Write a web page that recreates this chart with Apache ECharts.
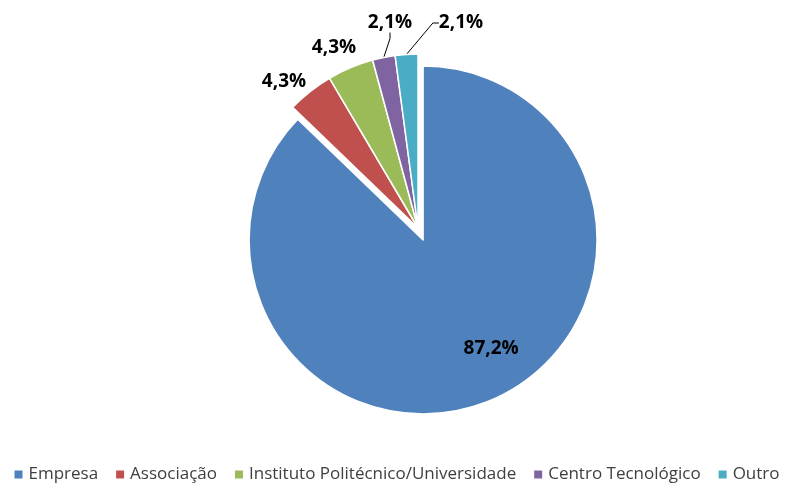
<!DOCTYPE html>
<html>
<head>
<meta charset="utf-8">
<script src="https://cdn.jsdelivr.net/npm/echarts@6/dist/echarts.min.js"></script>
<style>
  html, body { margin: 0; padding: 0; background: #fff; }
  #chart { width: 792px; height: 485px; }
</style>
</head>
<body>
<div id="chart"></div>
<script>
// Entity types and their share of participants (%)
const categories = ['Empresa', 'Associação', 'Instituto Politécnico/Universidade', 'Centro Tecnológico', 'Outro'];
const shares = [87.2, 4.3, 4.3, 2.1, 2.1];
const colors = ['#4F81BD', '#C0504D', '#9BBB59', '#8064A2', '#4BACC6'];

// Where each small-slice percentage label sits (label centre, px)
const labelSpots = [null, [284, 82], [334, 48], [390, 23], [461, 23]];

const fmt = v => v.toFixed(1).replace('.', ',') + '%';

const data = categories.map((name, i) => {
  const item = { name: name, value: shares[i], itemStyle: { color: colors[i] } };
  if (i === 0) {
    // pulled-out main slice, its label placed toward the lower right
    item.selected = true;
    item.label = { position: 'inside' };
    item.select = { label: { position: 'inside', offset: [68, 109] } };
  }
  if (i <= 2) {
    item.labelLine = { show: false };
  }
  return item;
});

const chart = echarts.init(document.getElementById('chart'), null, { renderer: 'canvas' });
chart.setOption({
  animation: false,
  backgroundColor: '#ffffff',
  color: colors,
  legend: {
    top: 466,
    left: 'center',
    padding: 0,
    itemWidth: 10,
    itemHeight: 10,
    itemGap: 16,
    icon: 'rect',
    selectedMode: false,
    textStyle: { fontFamily: 'Open Sans', fontSize: 17, color: '#404040' },
    data: categories
  },
  series: [{
    type: 'pie',
    center: [418, 228],
    radius: [0, 174],
    startAngle: 90,
    clockwise: true,
    selectedMode: 'multiple',
    selectedOffset: 13,
    emphasis: { disabled: true },
    itemStyle: { borderColor: '#ffffff', borderWidth: 1.5 },
    label: {
      show: true,
      position: 'outside',
      formatter: p => fmt(p.value),
      fontFamily: 'Open Sans',
      fontWeight: 'bold',
      fontSize: 19,
      color: '#000000'
    },
    labelLine: {
      show: true,
      length: 14,
      length2: 6,
      lineStyle: { color: '#000000', width: 1 }
    },
    labelLayout: function (p) {
      const s = labelSpots[p.dataIndex];
      if (!s) return {};
      return { x: s[0], y: s[1], align: 'center', verticalAlign: 'middle' };
    },
    data: data
  }]
});
</script>
</body>
</html>
